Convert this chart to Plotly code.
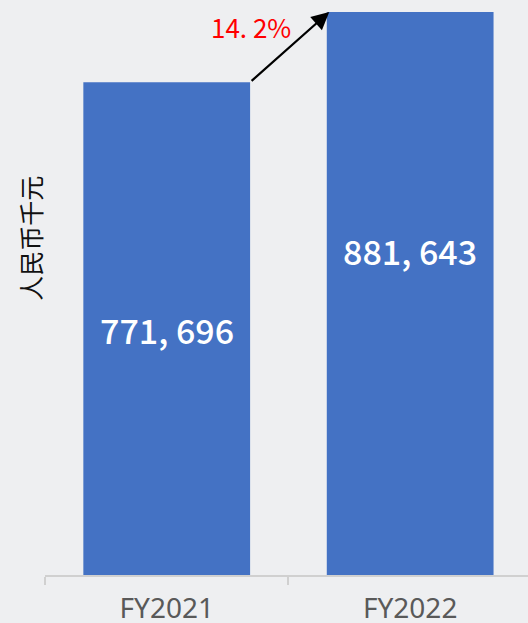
import plotly.graph_objects as go

categories = ["FY2021", "FY2022"]
values = [771696, 881643]
growth_label = "14. 2%"
y_title = "人民币千元"

def fmt(v):
    return f"{v:,}".replace(",", ", ")

bar_color = "#4472C4"
bg = "#eeeff1"
bargap = 0.315
half = (1 - bargap) / 2

fig = go.Figure()
fig.add_trace(go.Bar(x=categories, y=values, marker_color=bar_color,
                     marker_line_width=0, hoverinfo="skip"))

ymax = values[1] * 570 / 563
fig.update_layout(
    width=528, height=623,
    margin=dict(l=45, r=0, t=5, b=48, autoexpand=False),
    paper_bgcolor=bg, plot_bgcolor=bg,
    bargap=bargap, showlegend=False,
    font=dict(family="Noto Sans CJK SC"),
    xaxis=dict(range=[-0.5, 1.484], showline=True, linecolor="#d0d0d0", linewidth=1.5,
               ticks="outside", tickson="boundaries", tickcolor="#d0d0d0",
               ticklen=8, tickwidth=1.5, automargin=False, ticklabelstandoff=8,
               tickfont=dict(size=28, color="#595959", family="Noto Sans"),
               showgrid=False),
    yaxis=dict(range=[0, ymax], visible=False, showgrid=False),
)

# value labels inside bars
label_y = [0.43, 0.57]
for i, (c, v) in enumerate(zip(categories, values)):
    fig.add_annotation(x=c, y=label_y[i], xref="x", yref="paper",
                       xanchor="center", yanchor="middle",
                       text=fmt(v), showarrow=False,
                       font=dict(size=34, color="white", family="Noto Sans CJK SC",
                                 weight=500))

# growth arrow
fig.add_annotation(x=1 - half + 0.01, y=values[1], xref="x", yref="y",
                   ax=half, ay=values[0], axref="x", ayref="y",
                   text="", showarrow=True, arrowhead=2, arrowsize=1.6,
                   arrowwidth=2.2, arrowcolor="black", standoff=0, startstandoff=0)
fig.add_annotation(x=0.345, y=0.963, xref="x", yref="paper", text=growth_label,
                   xanchor="center", yanchor="middle",
                   showarrow=False, font=dict(size=26, color="#ff0000",
                                              family="Noto Sans CJK SC"))

# y-axis title
fig.add_annotation(x=-15 / 483, y=0.59, xref="paper", yref="paper", text=y_title,
                   xanchor="center", yanchor="middle",
                   showarrow=False, textangle=-90,
                   font=dict(size=25, color="#111111", family="Noto Sans CJK SC"))

fig.write_html("out.html", config={"displayModeBar": False},
               post_script="document.body.style.margin='0';")
